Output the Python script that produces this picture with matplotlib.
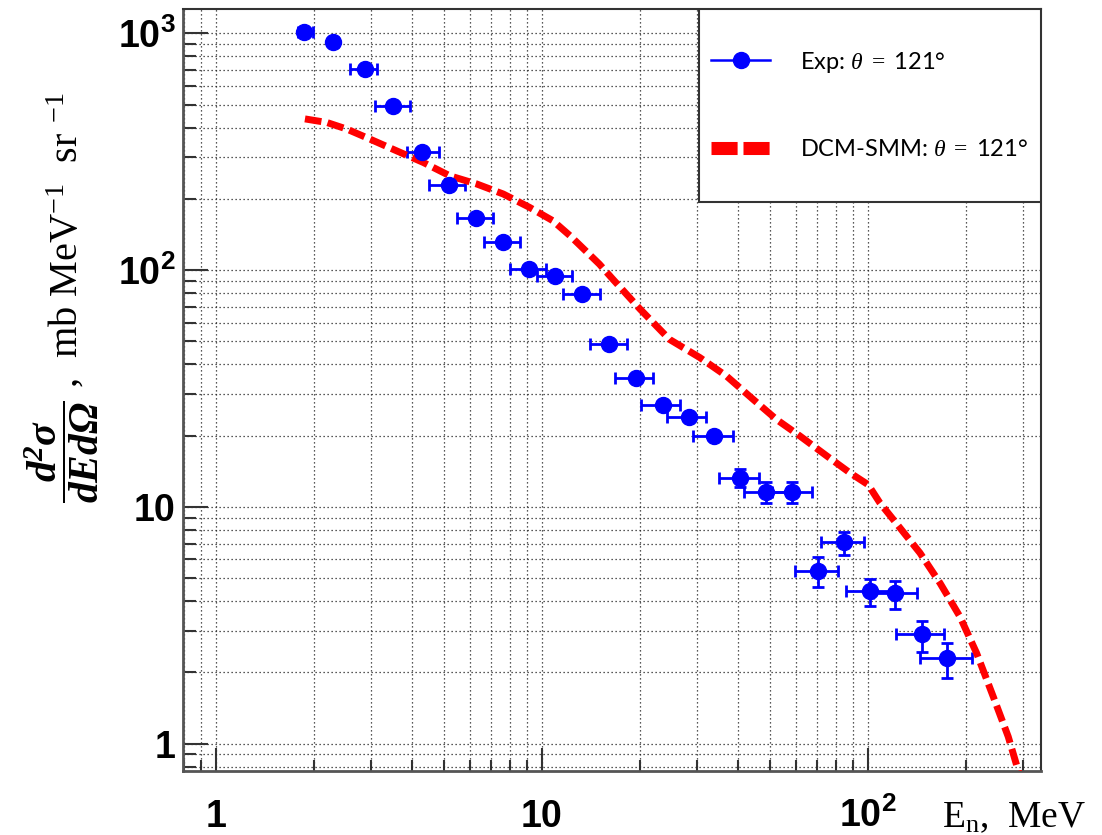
import matplotlib
matplotlib.use('Agg')
import matplotlib.pyplot as plt
from matplotlib.lines import Line2D
from matplotlib.patches import Rectangle
from matplotlib.ticker import LogLocator, NullFormatter
import numpy as np

plt.rcParams['mathtext.fontset'] = 'custom'
plt.rcParams['mathtext.rm'] = 'Liberation Serif'
plt.rcParams['mathtext.it'] = 'Liberation Serif:italic'
plt.rcParams['mathtext.bf'] = 'Liberation Sans:bold'
try:
    plt.rcParams['mathtext.bfit'] = 'Liberation Serif:bold:italic'
    HAS_BFIT = True
except KeyError:
    HAS_BFIT = False

# ---------------- data ----------------
exp_E = [1.86, 2.29, 2.87, 3.50, 4.29, 5.20, 6.27, 7.61, 9.14, 10.96, 13.24, 16.09,
         19.39, 23.45, 28.2, 33.7, 40.5, 48.7, 58.6, 70.1, 84.2, 101.7, 121.5, 146.3, 175.4]
exp_sig = [1012, 918, 708, 495, 316, 229, 166, 132, 101, 94.5, 79.1, 48.6,
           35.1, 26.9, 24.0, 19.9, 13.3, 11.6, 11.6, 5.38, 7.09, 4.39, 4.31, 2.90, 2.29]
exp_E_lo = [1.78, 2.22, 2.57, 3.08, 3.86, 4.51, 5.47, 6.63, 7.97, 9.64, 11.6, 14.0,
            16.8, 20.2, 24.2, 29.1, 34.9, 41.8, 50.7, 59.9, 71.6, 85.6, 104.0, 122.0, 144.0]
exp_E_hi = [1.98, 2.37, 3.12, 3.95, 4.84, 5.81, 7.06, 8.57, 10.3, 12.4, 15.1, 18.3,
            21.9, 26.5, 31.8, 38.6, 46.4, 56.6, 67.4, 81.1, 97.4, 119.0, 141.4, 171.0, 209.0]
exp_sig_lo = [1012, 918, 708, 495, 316, 229, 166, 132, 101, 94.5, 79.1, 48.6,
              35.1, 26.9, 24.0, 19.9, 12.1, 10.4, 10.4, 4.57, 6.28, 3.83, 3.70, 2.43, 1.90]
exp_sig_hi = [1012, 918, 708, 495, 316, 229, 166, 132, 101, 94.5, 79.1, 48.6,
              35.1, 26.9, 24.0, 19.9, 14.4, 12.7, 12.7, 6.14, 7.86, 4.97, 4.85, 3.30, 2.66]

dcm_E = [1.875, 2.19, 2.52, 2.96, 3.58, 4.32, 5.22, 6.31, 7.61, 9.16, 10.8, 12.2, 15.0,
         16.5, 20.0, 24.6, 30.5, 36.8, 44.5, 52.4, 61.9, 74.8, 88.2, 100.2, 108.8, 125.4,
         144.4, 166.3, 191.5, 215.5, 242.3, 269.4, 295.0]
dcm_sig = [435, 420, 394, 358, 319, 285, 250, 231, 209.5, 184, 161.6, 139.6, 106,
           91.5, 68.4, 51.0, 42.7, 35.7, 28.4, 23.4, 19.9, 16.4, 13.9, 12.4, 10.4, 8.15,
           6.39, 4.77, 3.44, 2.41, 1.58, 1.07, 0.70]

x_major = [1, 10, 100]
x_labels = ['1', '10', r'$\mathbf{10^{2}}$']
y_major = [1, 10, 100, 1000]
y_labels = ['1', '10', r'$\mathbf{10^{2}}$', r'$\mathbf{10^{3}}$']

label_exp = r'Exp: $\theta\ =\ $121°'
label_dcm = r'DCM-SMM: $\theta\ =\ $121°'

# ---------------- figure ----------------
W, H = 1102, 835
fig = plt.figure(figsize=(W / 100, H / 100), dpi=100)
ax = fig.add_axes([183.3 / W, 1 - 771 / H, 857.7 / W, 761.7 / H])
ax.set_xscale('log')
ax.set_yscale('log')
ax.set_xlim(0.794, 339.6)
ax.set_ylim(0.766, 1263)

E = np.array(exp_E)
S = np.array(exp_sig)
xerr = [E - np.array(exp_E_lo), np.array(exp_E_hi) - E]
yerr = [S - np.array(exp_sig_lo), np.array(exp_sig_hi) - S]
ax.errorbar(E, S, xerr=xerr, yerr=yerr, fmt='o', color='#0000ff', ms=11.5,
            elinewidth=2, capsize=4.5, capthick=2, zorder=3)

ax.plot(dcm_E, dcm_sig, color='#ff0000', lw=5, dashes=(2.4, 0.9), zorder=3,
        solid_capstyle='butt', dash_capstyle='butt')

# grid
ax.set_axisbelow(True)
ax.grid(True, which='both', color='#222222', lw=0.9, linestyle=(0, (1, 2.2)))

# ticks
ax.xaxis.set_minor_locator(LogLocator(base=10, subs=np.arange(2, 10), numticks=20))
ax.yaxis.set_minor_locator(LogLocator(base=10, subs=np.arange(2, 10), numticks=20))
ax.xaxis.set_minor_formatter(NullFormatter())
ax.yaxis.set_minor_formatter(NullFormatter())
ax.set_xticks(x_major, x_labels)
ax.set_yticks(y_major, y_labels)
ax.tick_params(axis='both', which='both', direction='in', top=False, right=False,
               color='#333333', width=1.5)
ax.tick_params(axis='y', which='major', length=18, pad=5.8)
ax.tick_params(axis='y', which='minor', length=9.4)
ax.tick_params(axis='x', which='major', length=16.5, pad=40)
ax.tick_params(axis='x', which='minor', length=8)
for lab in ax.get_xticklabels() + ax.get_yticklabels():
    lab.set_fontfamily('Liberation Sans')
    lab.set_fontweight('bold')
    lab.set_fontsize(27)
for lab in ax.get_xticklabels():
    lab.set_va('baseline')

for sp in ax.spines.values():
    sp.set_color('#333333')
    sp.set_linewidth(1.5)
ax.spines['left'].set_color('#555555')
ax.spines['bottom'].set_color('#555555')
ax.spines['left'].set_linewidth(2)
ax.spines['bottom'].set_linewidth(2)

# legend box
x0 = (699.3 - 183.3) / 857.7
y0 = (771 - 201.7) / 761.7
ax.add_patch(Rectangle((x0, y0), 1 - x0, 1 - y0, transform=ax.transAxes,
                       facecolor='white', edgecolor='#333333', lw=1.5, zorder=4))
h_exp = Line2D([], [], color='#0000ff', lw=1.8, marker='o', ms=11.5)
h_dcm = Line2D([], [], color='#ff0000', lw=9.4, dashes=(2.0, 0.45), dash_capstyle='butt')
leg = ax.legend([h_exp, h_dcm], [label_exp, label_dcm], loc='center left',
                bbox_to_anchor=((711 - 183.3) / 857.7, (771 - 105) / 761.7),
                frameon=False, borderpad=0, borderaxespad=0, handlelength=2.5,
                handletextpad=1.25, labelspacing=2.75, numpoints=1,
                prop={'family': 'Lato', 'size': 17})
leg.set_zorder(5)

# axis labels
fig.text(941.7 / W, (H - 826.7) / H, r'E$_{\mathrm{n}}$,  MeV', family='Liberation Serif',
         fontsize=27, ha='left', va='baseline')
fig.text(78 / W, 1 - 388 / H, r',  mb MeV$^{-1}$  sr $^{-1}$', family='Liberation Serif',
         fontsize=29, rotation=90, rotation_mode='anchor', ha='left', va='baseline')
if HAS_BFIT:
    frac = r'$\dfrac{\mathbfit{d^2\sigma}}{\mathbfit{dEd\Omega}}$'
else:
    frac = r'$\dfrac{d^2\sigma}{dEd\Omega}$'
fig.text(62 / W, 1 - 452 / H, frac, fontsize=30, rotation=90, rotation_mode='anchor',
         ha='center', va='center')

fig.savefig('out.png', dpi=100)
